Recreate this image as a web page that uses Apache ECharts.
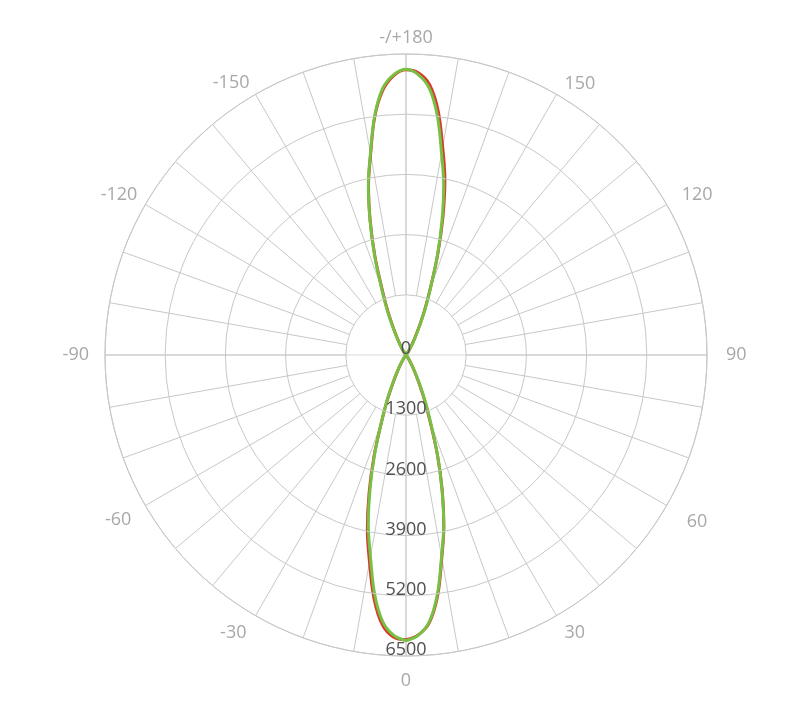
<!DOCTYPE html>
<html>
<head>
  <meta charset="UTF-8">
  <title>Polar</title>
  <style>
    * { margin: 0; padding: 0; }
    html, body { width: 100%; height: 100%; background: #fff; }
    #chart { width: 800px; height: 702px; }
  </style>
  <script src="https://cdn.jsdelivr.net/npm/echarts@6/dist/echarts.min.js"></script>
</head>
<body>
  <div id="chart"></div>
  <script>
    // angles in degrees, 0 at bottom, counter-clockwise
    var angles = [0, 2.5, 5, 7.5, 10, 12.5, 15, 17.5, 20, 22.5, 25, 27.5, 30, 35, 40, 45,
      50, 60, 70, 80, 90, 100, 110, 120, 130,
      135, 140, 145, 150, 152.5, 155, 157.5, 160, 162.5, 165, 167.5, 170, 172.5, 175, 177.5,
      180, 182.5, 185, 187.5, 190, 192.5, 195, 197.5, 200, 202.5, 205, 207.5, 210, 215, 220, 225,
      230, 240, 250, 260, 270, 280, 290, 300, 310,
      315, 320, 325, 330, 332.5, 335, 337.5, 340, 342.5, 345, 347.5, 350, 352.5, 355, 357.5, 360];

    var redValues = [6150, 6050, 5800, 5240, 4450, 3780, 3020, 2250, 1500, 1020, 640, 390, 230, 80, 20, 5,
      0, 0, 0, 0, 0, 0, 0, 0, 0,
      5, 20, 80, 230, 400, 660, 1050, 1540, 2280, 3080, 3880, 4560, 5320, 5860, 6100,
      6160, 6040, 5740, 5180, 4400, 3740, 2980, 2230, 1500, 1030, 650, 390, 230, 80, 20, 5,
      0, 0, 0, 0, 0, 0, 0, 0, 0,
      5, 20, 80, 230, 400, 660, 1060, 1560, 2300, 3080, 3860, 4540, 5300, 5850, 6100, 6150];

    var greenValues = [6170, 6060, 5780, 5200, 4420, 3760, 3000, 2260, 1560, 1100, 700, 430, 260, 90, 25, 5,
      0, 0, 0, 0, 0, 0, 0, 0, 0,
      5, 25, 90, 260, 430, 700, 1100, 1560, 2260, 3000, 3760, 4420, 5200, 5780, 6060,
      6170, 6060, 5780, 5200, 4420, 3760, 3000, 2260, 1560, 1100, 700, 430, 260, 90, 25, 5,
      0, 0, 0, 0, 0, 0, 0, 0, 0,
      5, 25, 90, 260, 430, 700, 1100, 1560, 2260, 3000, 3760, 4420, 5200, 5780, 6060, 6170];

    var radiusTicks = [0, 1300, 2600, 3900, 5200, 6500];

    var gridColor = '#c8c8c8';

    // nudges for the angle labels [top, right, bottom, left]
    var labelPad = {
      0: [16, 0, 0, 0], 30: [8, 0, 0, 8], 60: [7, 0, 0, 20], 90: [0, 0, 0, 19],
      120: [0, 0, 1, 15], 150: [0, 0, 1, 8], 180: [0, 0, 7, 0], 210: [0, 6, 2, 0],
      240: [0, 8, 1, 0], 270: [0, 16, 0, 0], 300: [5, 14, 0, 0], 330: [8, 9, 0, 0], 360: [16, 0, 0, 0]
    };

    function toPolar(values) {
      return values.map(function (v, i) { return [v, angles[i]]; });
    }

    function angleLabel(v) {
      if (v % 30 !== 0) return '';
      var txt = v === 180 ? '-/+180' : (v > 180 ? String(v - 360) : String(v));
      return '{a' + v + '|' + txt + '}';
    }

    var rich = {};
    Object.keys(labelPad).forEach(function (k) {
      rich['a' + k] = {
        padding: labelPad[k],
        color: '#a8a8a8', fontSize: 18, fontFamily: 'Open Sans'
      };
    });

    var chart = echarts.init(document.getElementById('chart'));
    var option = {
      backgroundColor: '#fff',
      animation: false,
      polar: [
        { center: [406, 355], radius: [0, 301] },
        { center: [406, 355], radius: [60, 301] }
      ],
      angleAxis: [
        {
          polarIndex: 0,
          type: 'value',
          min: 0, max: 360, interval: 90,
          startAngle: 270, clockwise: false,
          axisLine: { show: true, lineStyle: { color: gridColor, width: 1 } },
          axisTick: { show: false },
          axisLabel: { show: false },
          splitLine: { show: true, lineStyle: { color: '#d8d8d8', width: 1 } }
        },
        {
          polarIndex: 1,
          type: 'value',
          min: 0, max: 360, interval: 10,
          startAngle: 270, clockwise: false,
          axisLine: { show: false },
          axisTick: { show: false },
          axisLabel: {
            show: true, margin: 0, formatter: angleLabel, rich: rich,
            color: '#a8a8a8', fontSize: 18, fontFamily: 'Open Sans'
          },
          splitLine: { show: true, lineStyle: { color: gridColor, width: 1 } }
        }
      ],
      radiusAxis: [
        {
          polarIndex: 0,
          type: 'value',
          min: radiusTicks[0], max: radiusTicks[radiusTicks.length - 1], interval: 1300,
          axisLine: { show: false },
          axisTick: { show: false },
          axisLabel: {
            show: true, margin: 0, align: 'center', verticalAlign: 'bottom', lineHeight: 12,
            formatter: function (v) { return String(v); },
            color: '#505050', fontSize: 18, fontFamily: 'Open Sans'
          },
          splitLine: { show: true, lineStyle: { color: gridColor, width: 1 } },
          z: 10
        },
        {
          polarIndex: 1,
          type: 'value',
          min: 0, max: 6500,
          show: false
        }
      ],
      series: [
        {
          name: 'red',
          type: 'line',
          coordinateSystem: 'polar',
          polarIndex: 0,
          showSymbol: false,
          smooth: 0.35,
          lineStyle: { color: '#d93a2b', width: 3 },
          data: toPolar(redValues)
        },
        {
          name: 'green',
          type: 'line',
          coordinateSystem: 'polar',
          polarIndex: 0,
          showSymbol: false,
          smooth: 0.35,
          lineStyle: { color: '#77c043', width: 3 },
          data: toPolar(greenValues)
        }
      ]
    };
    chart.setOption(option);
  </script>
</body>
</html>
